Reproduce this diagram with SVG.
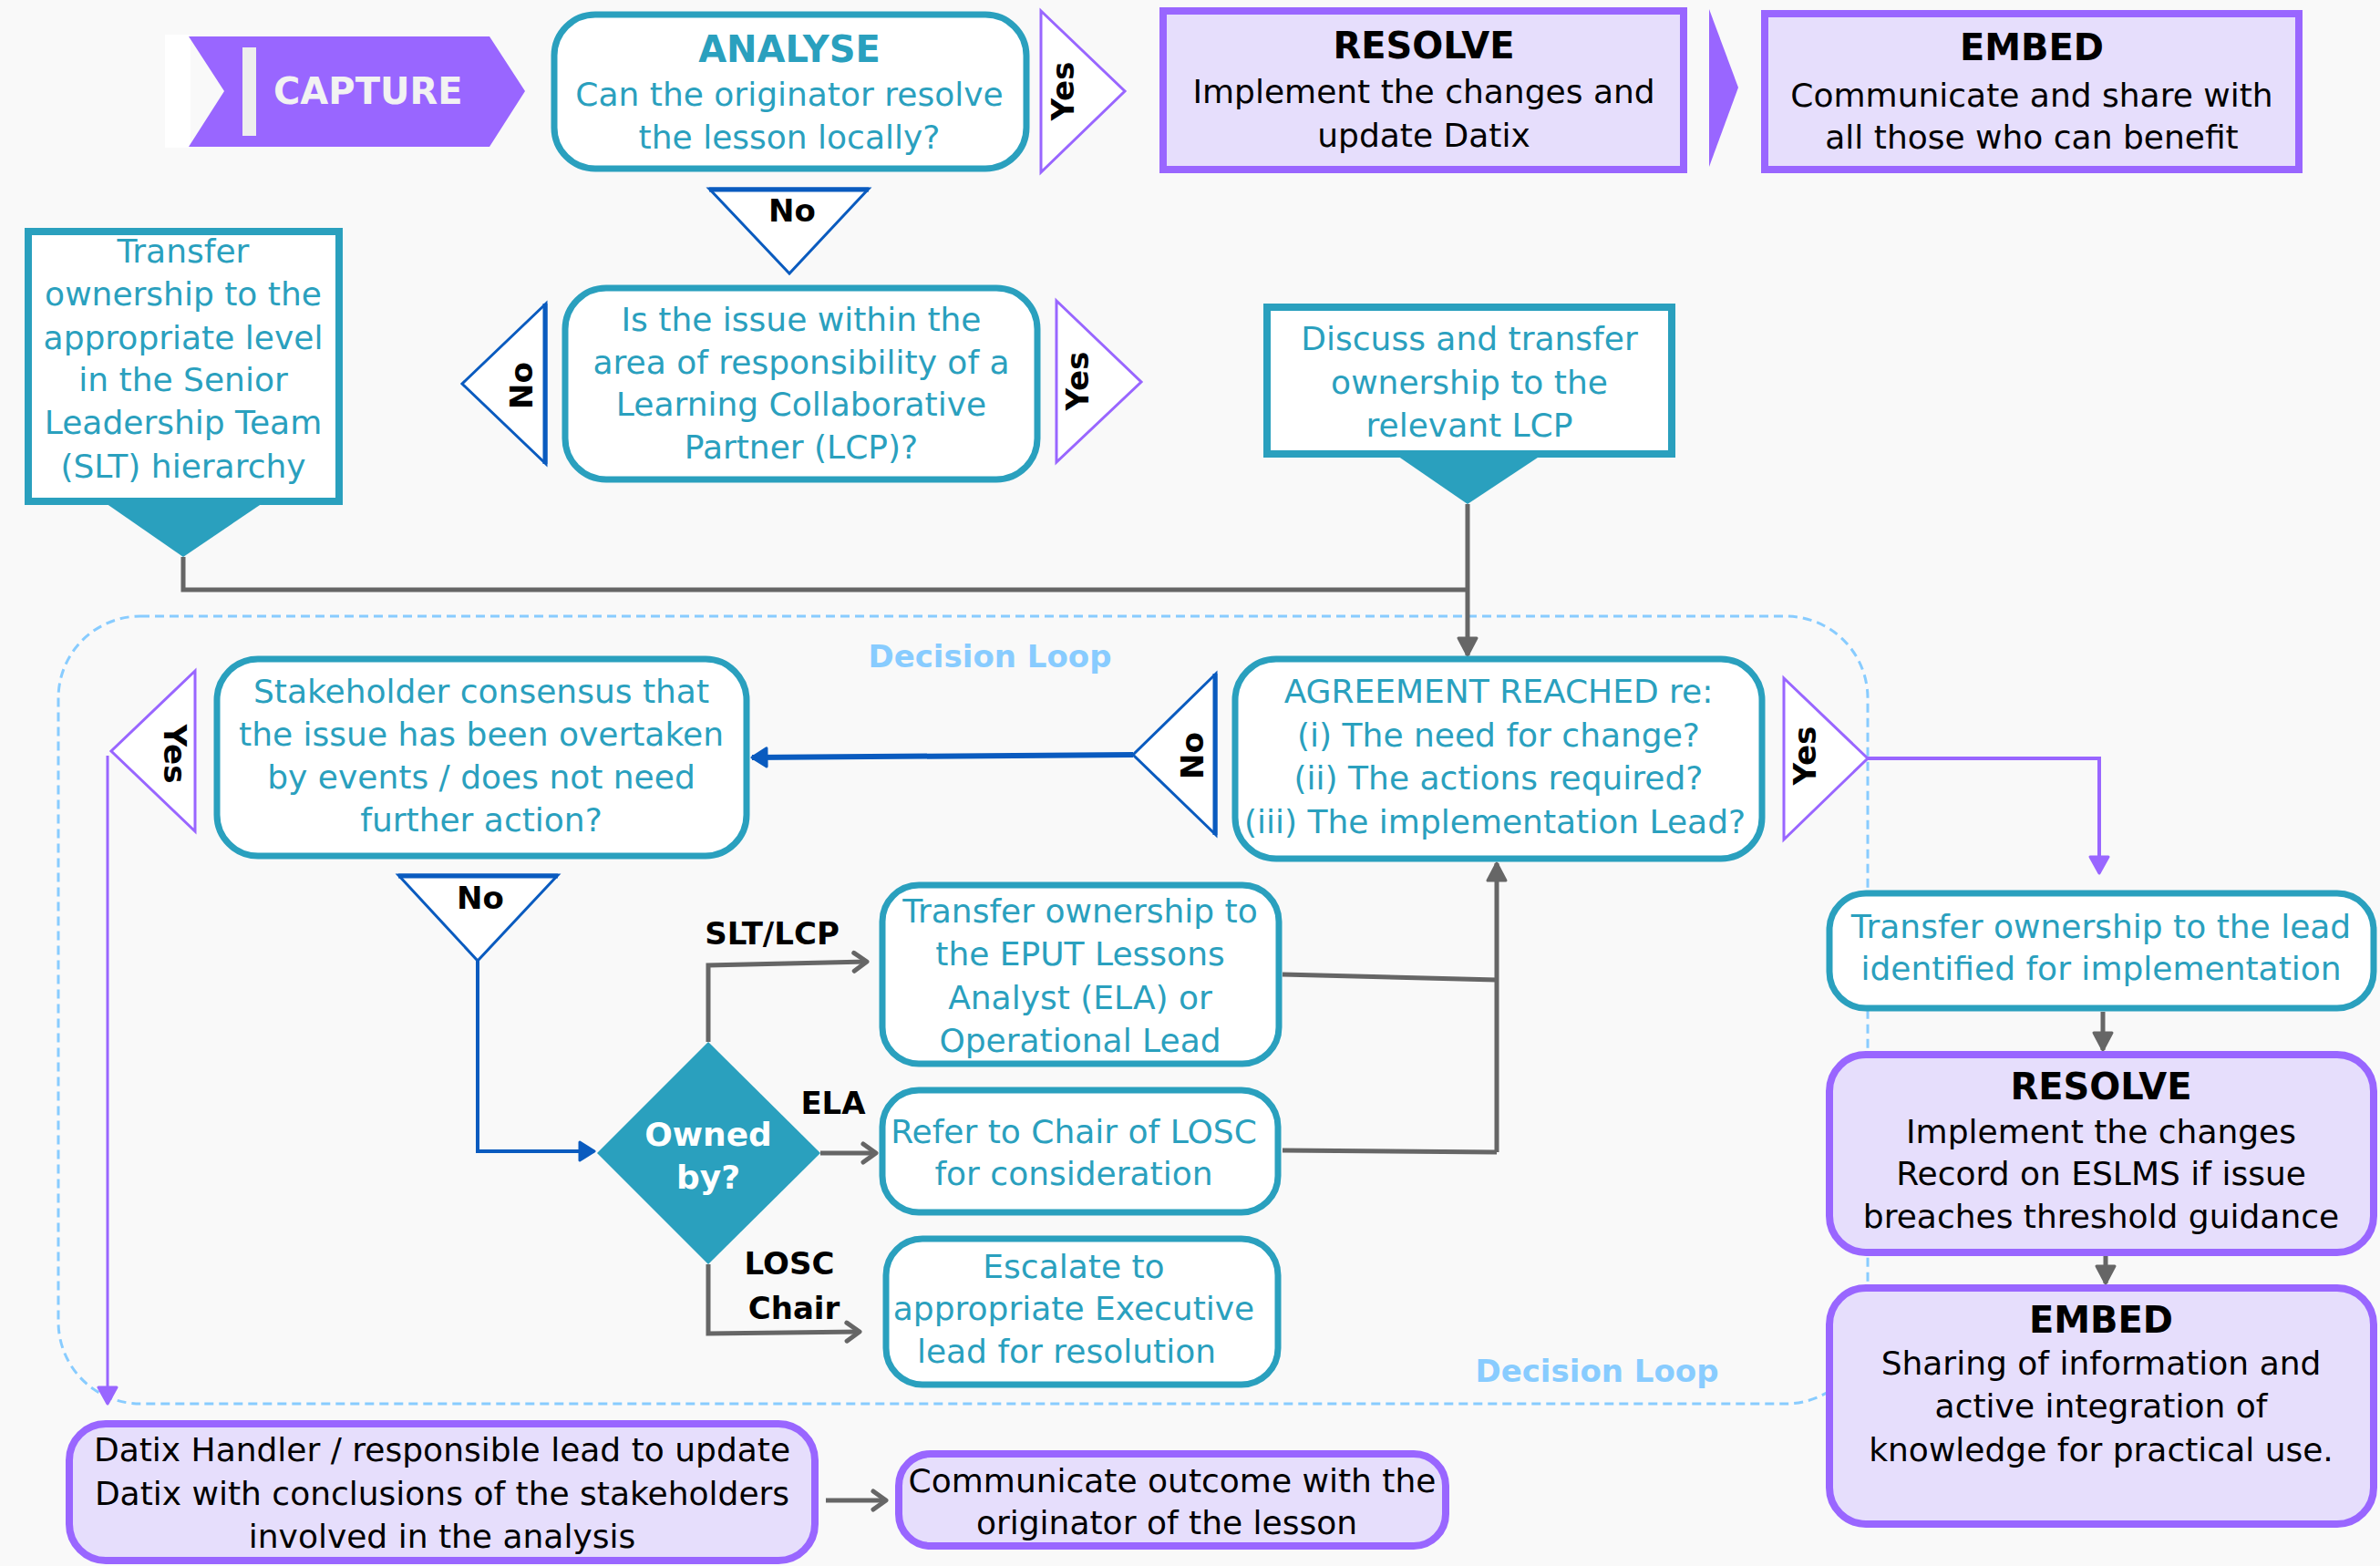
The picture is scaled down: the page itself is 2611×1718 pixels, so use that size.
<svg xmlns="http://www.w3.org/2000/svg" width="2611" height="1718" viewBox="0 0 2611 1718">
<style>
text{font-family:"DejaVu Sans",Verdana,sans-serif;text-anchor:middle}
.t{font-size:36px;fill:#2aa0be}
.k{font-size:36px;fill:#000}
.h{font-size:40px;font-weight:bold}
.lb{font-size:34px;font-weight:bold;fill:#000}
.rl{font-size:34px;font-weight:bold;fill:#000;dominant-baseline:central}
.dl{font-size:34px;font-weight:bold;fill:#88ccff}
.tb{fill:#fff;stroke:#2aa0be;stroke-width:7}
.sq{fill:#fff;stroke:#2aa0be;stroke-width:8}
.pb{fill:#e6defc;stroke:#9966ff;stroke-width:8}
.py{fill:#fff;stroke:#9966ff;stroke-width:3}
.bn{fill:#fff;stroke:#0a5bbf;stroke-width:3}
.g{fill:none;stroke:#666;stroke-width:5}
</style>
<defs>
<marker id="ag" markerUnits="userSpaceOnUse" viewBox="0 0 24 24" markerWidth="24" markerHeight="24" refX="22" refY="12" orient="auto" overflow="visible"><path d="M3,2 L22,12 L3,22 Z" fill="#666" stroke="#666" stroke-width="3" stroke-linejoin="round"/></marker>
<marker id="ao" markerUnits="userSpaceOnUse" viewBox="0 0 24 24" markerWidth="24" markerHeight="24" refX="21" refY="12" orient="auto" overflow="visible"><path d="M7,2 L21,12 L7,22" fill="none" stroke="#666" stroke-width="5" stroke-linejoin="round" stroke-linecap="round"/></marker>
<marker id="ab" markerUnits="userSpaceOnUse" viewBox="0 0 24 24" markerWidth="24" markerHeight="24" refX="20" refY="12" orient="auto" overflow="visible"><path d="M4,2 L20,12 L4,22 Z" fill="#0a5bbf" stroke="#0a5bbf" stroke-width="3" stroke-linejoin="round"/></marker>
<marker id="ap" markerUnits="userSpaceOnUse" viewBox="0 0 24 24" markerWidth="24" markerHeight="24" refX="21" refY="12" orient="auto" overflow="visible"><path d="M3,2 L21,12 L3,22 Z" fill="#9966ff" stroke="#9966ff" stroke-width="3" stroke-linejoin="round"/></marker>
</defs>
<rect x="0" y="0" width="2611" height="1718" fill="#f9f9f9"/>

<g id="decision-loop">
<rect x="64" y="676" width="1985" height="864" rx="90" fill="none" stroke="#88ccff" stroke-width="3" stroke-dasharray="10 6"/>
<text class="dl" x="1086" y="732">Decision Loop</text>
<text class="dl" x="1752" y="1516">Decision Loop</text>
</g>

<g id="connectors">
<path class="g" d="M201,611 V647 H1610"/>
<path class="g" d="M1610,553 V719" marker-end="url(#ag)"/>
<path d="M1243,828 L825,831" fill="none" stroke="#0a5bbf" stroke-width="6" marker-end="url(#ab)"/>
<path d="M2049,832 H2303 V958" fill="none" stroke="#9966ff" stroke-width="4" marker-end="url(#ap)"/>
<path class="g" d="M2307,1110 V1152" marker-end="url(#ag)"/>
<path class="g" d="M2310,1378 V1408" marker-end="url(#ag)"/>
<path d="M118,829 V1540" fill="none" stroke="#9966ff" stroke-width="3" marker-end="url(#ap)"/>
<path d="M524,1054 V1263 H652" fill="none" stroke="#0a5bbf" stroke-width="4" marker-end="url(#ab)"/>
<path class="g" d="M777,1143 V1059 L951,1055" marker-end="url(#ao)"/>
<path class="g" d="M900,1265 H961" marker-end="url(#ao)"/>
<path class="g" d="M777,1387 V1463 L943,1461" marker-end="url(#ao)"/>
<path class="g" d="M1407,1069 L1642,1075"/>
<path class="g" d="M1407,1262 L1642,1264"/>
<path class="g" d="M1642,1264 V947" marker-end="url(#ag)"/>
<path class="g" d="M906,1646 H972" marker-end="url(#ao)"/>
<text class="lb" x="847" y="1036">SLT/LCP</text>
<text class="lb" x="914" y="1222">ELA</text>
<text class="lb" x="866" y="1398">LOSC</text>
<text class="lb" x="871" y="1447">Chair</text>
</g>

<g id="capture">
<rect x="181" y="38" width="28" height="124" fill="#fff"/>
<polygon points="207,40 537,40 576,100 537,161 207,161 246,100" fill="#9966ff"/>
<rect x="266" y="52" width="15" height="97" fill="#eeeeee"/>
<text x="300" y="114" style="text-anchor:start;font-size:40px;font-weight:bold;fill:#f2f2f2">CAPTURE</text>
</g>

<g id="analyse">
<rect class="tb" x="608" y="16" width="518" height="169" rx="45"/>
<text class="t h" x="866" y="68">ANALYSE</text>
<text class="t" x="866" y="116">Can the originator resolve</text>
<text class="t" x="866" y="163">the lesson locally?</text>
</g>

<g id="yes-analyse">
<polygon class="py" points="1142,12 1234,100 1142,189"/>
<text class="rl" transform="translate(1166,100) rotate(-90)">Yes</text>
</g>

<g id="resolve-top">
<rect class="pb" x="1276" y="12" width="571" height="174"/>
<text class="k h" x="1562" y="64">RESOLVE</text>
<text class="k" x="1562" y="113">Implement the changes and</text>
<text class="k" x="1562" y="161">update Datix</text>
</g>

<g id="chevron-top">
<polygon points="1875,10 1907,96 1875,183" fill="#9966ff"/>
</g>

<g id="embed-top">
<rect class="pb" x="1936" y="15" width="586" height="171"/>
<text class="k h" x="2229" y="66">EMBED</text>
<text class="k" x="2229" y="117">Communicate and share with</text>
<text class="k" x="2229" y="163">all those who can benefit</text>
</g>

<g id="no-analyse">
<polygon class="bn" points="778,207 953,207 866,300"/>
<line x1="778" y1="208" x2="953" y2="208" stroke="#0a5bbf" stroke-width="5"/>
<text class="lb" x="869" y="243">No</text>
</g>

<g id="lcp-question">
<rect class="tb" x="620" y="316" width="518" height="210" rx="45"/>
<text class="t" x="879" y="363">Is the issue within the</text>
<text class="t" x="879" y="410">area of responsibility of a</text>
<text class="t" x="879" y="456">Learning Collaborative</text>
<text class="t" x="879" y="503">Partner (LCP)?</text>
</g>

<g id="no-lcp">
<polygon class="bn" points="599,333 507,421 599,509"/>
<line x1="598" y1="333" x2="598" y2="509" stroke="#0a5bbf" stroke-width="5"/>
<text class="rl" transform="translate(572,423) rotate(-90)">No</text>
</g>

<g id="yes-lcp">
<polygon class="py" points="1159,330 1252,419 1159,507"/>
<text class="rl" transform="translate(1182,418) rotate(-90)">Yes</text>
</g>

<g id="slt-transfer">
<rect class="sq" x="31" y="254" width="341" height="296"/>
<polygon points="113,550 291,550 201,611" fill="#2aa0be"/>
<text class="t" x="201" y="288">Transfer</text>
<text class="t" x="201" y="335">ownership to the</text>
<text class="t" x="201" y="383">appropriate level</text>
<text class="t" x="201" y="429">in the Senior</text>
<text class="t" x="201" y="476">Leadership Team</text>
<text class="t" x="201" y="524">(SLT) hierarchy</text>
</g>

<g id="lcp-transfer">
<rect class="sq" x="1390" y="337" width="444" height="161"/>
<polygon points="1530,498 1693,498 1610,553" fill="#2aa0be"/>
<text class="t" x="1612" y="384">Discuss and transfer</text>
<text class="t" x="1612" y="432">ownership to the</text>
<text class="t" x="1612" y="479">relevant LCP</text>
</g>

<g id="agreement">
<rect class="tb" x="1355" y="723" width="578" height="219" rx="45"/>
<text class="t" x="1644" y="771">AGREEMENT REACHED re:</text>
<text class="t" x="1644" y="819">(i) The need for change?</text>
<text class="t" x="1644" y="866">(ii) The actions required?</text>
<text class="t" x="1640" y="914">(iii) The implementation Lead?</text>
</g>

<g id="no-agreement">
<polygon class="bn" points="1334,739 1243,828 1334,916"/>
<line x1="1333" y1="739" x2="1333" y2="916" stroke="#0a5bbf" stroke-width="5"/>
<text class="rl" transform="translate(1308,829) rotate(-90)">No</text>
</g>

<g id="yes-agreement">
<polygon class="py" points="1957,744 2049,832 1957,921"/>
<text class="rl" transform="translate(1980,829) rotate(-90)">Yes</text>
</g>

<g id="stakeholder">
<rect class="tb" x="238" y="723" width="581" height="216" rx="45"/>
<text class="t" x="528" y="771">Stakeholder consensus that</text>
<text class="t" x="528" y="818">the issue has been overtaken</text>
<text class="t" x="528" y="865">by events / does not need</text>
<text class="t" x="528" y="912">further action?</text>
</g>

<g id="yes-stakeholder">
<polygon class="py" points="214,736 122,824 214,912"/>
<text class="rl" transform="translate(192,827) rotate(90)">Yes</text>
</g>

<g id="no-stakeholder">
<polygon class="bn" points="437,960 612,960 524,1054"/>
<line x1="437" y1="961" x2="612" y2="961" stroke="#0a5bbf" stroke-width="5"/>
<text class="lb" x="527" y="997">No</text>
</g>

<g id="owned-by">
<polygon points="777,1143 900,1265 777,1387 655,1265" fill="#2aa0be"/>
<text x="777" y="1257" style="font-size:36px;font-weight:bold;fill:#fff">Owned</text>
<text x="777" y="1304" style="font-size:36px;font-weight:bold;fill:#fff">by?</text>
</g>

<g id="eput">
<rect class="tb" x="968" y="971" width="435" height="196" rx="40"/>
<text class="t" x="1185" y="1012">Transfer ownership to</text>
<text class="t" x="1185" y="1059">the EPUT Lessons</text>
<text class="t" x="1185" y="1107">Analyst (ELA) or</text>
<text class="t" x="1185" y="1154">Operational Lead</text>
</g>

<g id="refer-losc">
<rect class="tb" x="968" y="1196" width="434" height="134" rx="40"/>
<text class="t" x="1178" y="1254">Refer to Chair of LOSC</text>
<text class="t" x="1178" y="1300">for consideration</text>
</g>

<g id="escalate">
<rect class="tb" x="972" y="1359" width="430" height="160" rx="40"/>
<text class="t" x="1178" y="1402">Escalate to</text>
<text class="t" x="1178" y="1448">appropriate Executive</text>
<text class="t" x="1170" y="1495">lead for resolution</text>
</g>

<g id="transfer-lead">
<rect class="tb" x="2007" y="980" width="597" height="126" rx="40"/>
<text class="t" x="2305" y="1029">Transfer ownership to the lead</text>
<text class="t" x="2305" y="1075">identified for implementation</text>
</g>

<g id="resolve-right">
<rect class="pb" x="2007" y="1157" width="597" height="217" rx="40"/>
<text class="k h" x="2305" y="1206">RESOLVE</text>
<text class="k" x="2305" y="1254">Implement the changes</text>
<text class="k" x="2305" y="1300">Record on ESLMS if issue</text>
<text class="k" x="2305" y="1347">breaches threshold guidance</text>
</g>

<g id="embed-right">
<rect class="pb" x="2007" y="1413" width="597" height="259" rx="40"/>
<text class="k h" x="2305" y="1462">EMBED</text>
<text class="k" x="2305" y="1508">Sharing of information and</text>
<text class="k" x="2305" y="1555">active integration of</text>
<text class="k" x="2305" y="1603">knowledge for practical use.</text>
</g>

<g id="datix-handler">
<rect class="pb" x="76" y="1562" width="818" height="150" rx="40"/>
<text class="k" x="485" y="1603">Datix Handler / responsible lead to update</text>
<text class="k" x="485" y="1651">Datix with conclusions of the stakeholders</text>
<text class="k" x="485" y="1698">involved in the analysis</text>
</g>

<g id="communicate">
<rect class="pb" x="986" y="1595" width="600" height="101" rx="35"/>
<text class="k" x="1286" y="1637">Communicate outcome with the</text>
<text class="k" x="1280" y="1683">originator of the lesson</text>
</g>
</svg>
